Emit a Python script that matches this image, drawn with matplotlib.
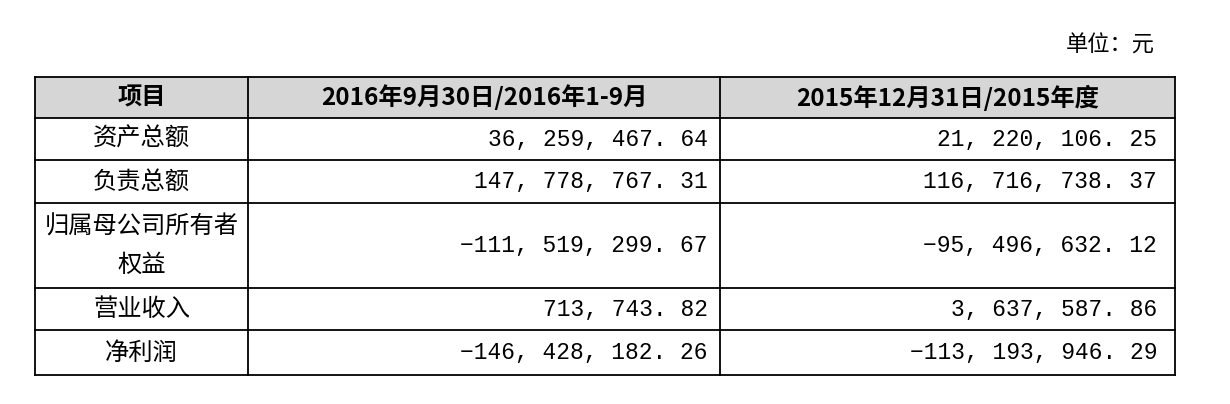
import matplotlib.pyplot as plt
from matplotlib.patches import Rectangle

plt.rcParams['font.family'] = ['Noto Sans CJK SC', 'DejaVu Sans']

UNIT = "单位：元"
HEADERS = ["项目", "2016年9月30日/2016年1-9月", "2015年12月31日/2015年度"]
ITEMS = ["资产总额", "负责总额", "归属母公司所有者\n权益", "营业收入", "净利润"]
COL_2016 = ["36, 259, 467. 64", "147, 778, 767. 31", "−111, 519, 299. 67",
            "713, 743. 82", "−146, 428, 182. 26"]
COL_2015 = ["21, 220, 106. 25", "116, 716, 738. 37", "−95, 496, 632. 12",
            "3, 637, 587. 86", "−113, 193, 946. 29"]

# table geometry in pixels
col_x = [35, 248, 720, 1175]
row_y = [77, 118, 160, 203, 288, 330, 375]

fig = plt.figure(figsize=(12.3, 4.04), dpi=100)
ax = fig.add_axes([0, 0, 1, 1])
ax.set_xlim(0, 1230)
ax.set_ylim(404, 0)
ax.axis("off")

ax.add_patch(Rectangle((col_x[0], row_y[0]), col_x[-1] - col_x[0], row_y[1] - row_y[0],
                       facecolor="#d6d6d6", edgecolor="none"))

for x in col_x:
    ax.plot([x, x], [row_y[0], row_y[-1]], color="black", lw=1.3)
for y in row_y:
    ax.plot([col_x[0], col_x[-1]], [y, y], color="black", lw=1.3)

ax.text(1155, 45, UNIT, ha="right", va="center", fontsize=16)

for i, h in enumerate(HEADERS):
    ax.text((col_x[i] + col_x[i + 1]) / 2, (row_y[0] + row_y[1]) / 2, h,
            ha="center", va="center", fontsize=17.5, fontweight="bold")

num_font = ['Liberation Mono', 'DejaVu Sans Mono']
for r, (name, a, b) in enumerate(zip(ITEMS, COL_2016, COL_2015)):
    yc = (row_y[r + 1] + row_y[r + 2]) / 2
    ax.text((col_x[0] + col_x[1]) / 2, yc, name, ha="center", va="center",
            fontsize=17.5, linespacing=1.6)
    ax.text(col_x[2] - 12, yc, a, ha="right", va="center", fontsize=16.5, family=num_font)
    ax.text(col_x[3] - 18, yc, b, ha="right", va="center", fontsize=16.5, family=num_font)

fig.savefig("out.png", dpi=100, facecolor="white")
